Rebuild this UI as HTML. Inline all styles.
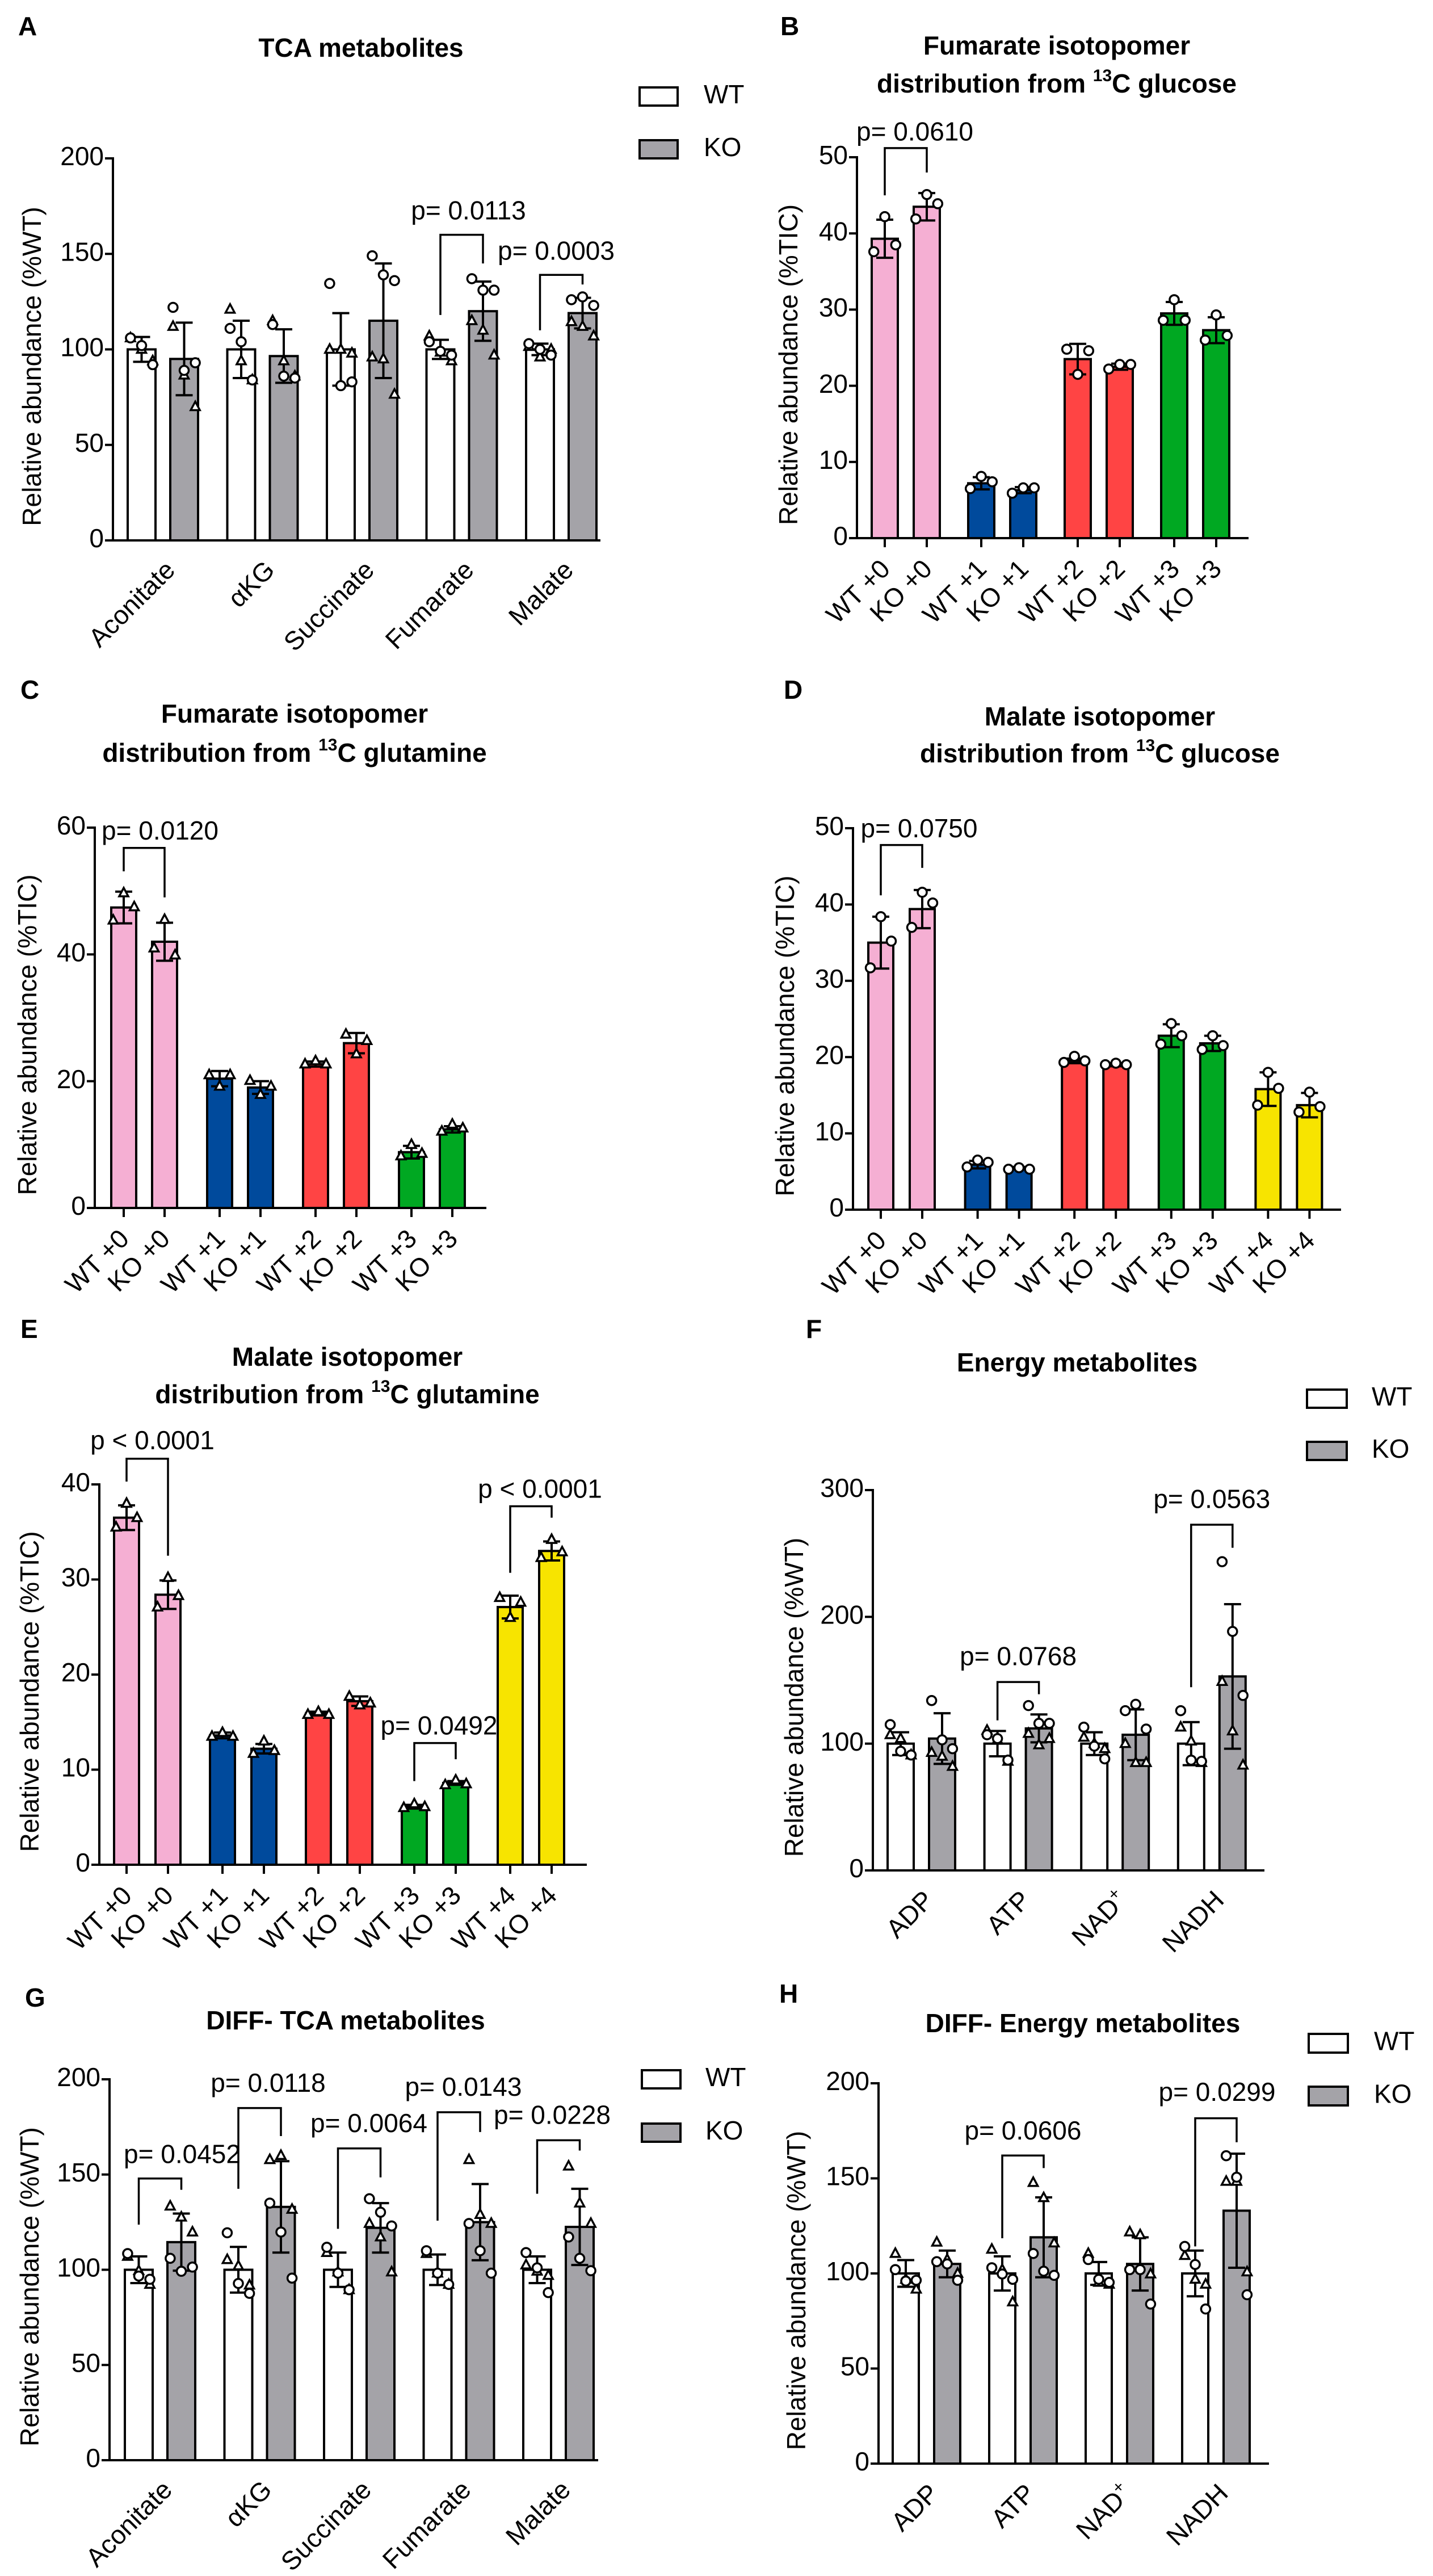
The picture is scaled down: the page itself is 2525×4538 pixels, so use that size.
<!DOCTYPE html>
<html><head><meta charset="utf-8"><title>Metabolite figure</title>
<style>
html,body{margin:0;padding:0;background:#fff;}
svg{display:block;font-family:"Liberation Sans",Arial,sans-serif;}
</style></head>
<body>
<svg id="fig" xmlns="http://www.w3.org/2000/svg" width="2525" height="4538" viewBox="0 0 2525 4538">
<rect x="0" y="0" width="2525" height="4538" fill="#ffffff"/>
</svg>
<script>
// ===== Panel A data =====
const aCategories = ['Aconitate','\u03b1KG','Succinate','Fumarate','Malate'];
const aWtMean = [100,100,100,100,100];
const aKoMean = [95,96.5,115,120,119];
const aWtSd = [6.5,15,19,5,3];
const aKoSd = [19,14,30,15.5,8];
const aWtPts = [
 [[106,'t'],[100,'t'],[94,'t'],[106,'c'],[102,'c'],[92,'c']],
 [[121,'t'],[94,'t'],[84,'t'],[111,'c'],[104,'c'],[84,'c']],
 [[100,'t'],[100,'t'],[98,'t'],[134.5,'c'],[81,'c'],[83,'c']],
 [[107,'t'],[98.5,'t'],[94,'t'],[104,'c'],[99,'c'],[97,'c']],
 [[101.5,'t'],[96,'t'],[100,'t'],[103,'c'],[100,'c'],[97,'c']]
];
const aKoPts = [
 [[112,'t'],[86.5,'t'],[70,'t'],[122,'c'],[89,'c'],[93,'c']],
 [[115,'t'],[94,'t'],[86,'t'],[113,'c'],[86,'c'],[85,'c']],
 [[96,'t'],[95,'t'],[76.5,'t'],[149,'c'],[139,'c'],[136,'c']],
 [[115,'t'],[110,'t'],[97,'t'],[137,'c'],[131,'c'],[131,'c']],
 [[114.5,'t'],[112,'t'],[107,'t'],[126,'c'],[127.5,'c'],[123,'c']]
];
const aTicks = [0,50,100,150,200];
const aBrackets = [
 {a:6,b:7,top:160,l:118,r:145,t:168,label:'p= 0.0113'},
 {a:8,b:9,top:139,l:110,r:134,t:147,label:'p= 0.0003'}
];
// ===== Panel B data =====
const bLabels = ['WT +0','KO +0','WT +1','KO +1','WT +2','KO +2','WT +3','KO +3'];
const bMeans = [39.3,43.5,7.2,6.3,23.5,22.5,29.5,27.3];
const bSd = [2.5,1.8,0.8,0.4,2,0.4,1.5,1.7];
const bPts = [[37.6,42.2,38.5],[41.9,45.1,43.9],[6.5,8.1,7.4],[5.9,6.6,6.6],[24.8,21.5,24.6],[22.2,22.8,22.8],[28.6,31.3,28.6],[26,29.3,26.6]];
const bTicks = [0,10,20,30,40,50];
const bBrackets = [{a:0,b:1,top:51.2,l:45,r:48,t:52.2,label:'p= 0.0610'}];
// ===== Panel C data =====
const cLabels = ['WT +0','KO +0','WT +1','KO +1','WT +2','KO +2','WT +3','KO +3'];
const cMeans = [47.4,42,20.4,19,22.7,26,8.8,12.4];
const cSd = [2.5,3,1.2,1,0.4,1.6,1,0.5];
const cPts = [[45.4,49.7,47.5],[41,45.5,39.9],[21,19.2,21],[20.1,17.9,19.2],[22.7,23.2,22.7],[27.4,24.3,26.4],[8.2,10,8.6],[12.1,13.2,12.6]];
const cTicks = [0,20,40,60];
const cBrackets = [{a:0,b:1,top:56.8,l:53.1,r:49,t:58.1,label:'p= 0.0120'}];
// ===== Panel D data =====
const dLabels = ['WT +0','KO +0','WT +1','KO +1','WT +2','KO +2','WT +3','KO +3','WT +4','KO +4'];
const dMeans = [35,39.4,5.9,5.5,19.5,19,22.8,21.8,15.8,13.7];
const dSd = [3.4,2.5,0.5,0.1,0.3,0.2,1.5,1,2.2,1.6];
const dPts = [[31.7,38.4,35.2],[37,41.6,40.2],[5.6,6.5,6.2],[5.3,5.5,5.3],[19.3,20.1,19.5],[19,19.2,19],[21.7,24.4,22.8],[21,22.8,21.5],[13.7,18,15.9],[12.8,15.4,13.5]];
const dTicks = [0,10,20,30,40,50];
const dBrackets = [{a:0,b:1,top:47.8,l:41.2,r:44.8,t:48.8,label:'p= 0.0750'}];
// ===== Panel E data =====
const eLabels = ['WT +0','KO +0','WT +1','KO +1','WT +2','KO +2','WT +3','KO +3','WT +4','KO +4'];
const eMeans = [36.5,28.4,13.6,12.2,15.9,17.2,6.1,8.6,27.1,33];
const eSd = [1.3,1.5,0.3,0.5,0.2,0.5,0.2,0.2,1.2,1.0];
const ePts = [[35.5,38,36.5],[27.1,30.2,28.3],[13.5,13.9,13.5],[11.7,13,12],[15.8,16.1,15.8],[17.7,16.8,17],[6,6.4,6.1],[8.4,8.9,8.5],[28.1,26,27.6],[32.3,34.2,32.9]];
const eTicks = [0,10,20,30,40];
const eBrackets = [
 {a:0,b:1,top:42.7,l:40.3,r:32.5,t:43.7,label:'p < 0.0001'},
 {a:6,b:7,top:12.8,l:8.8,r:11.1,t:13.7,label:'p= 0.0492'},
 {a:8,b:9,top:37.7,l:30.7,r:36.5,t:38.6,label:'p < 0.0001'}
];
// ===== Panel F data =====
const fCategories = ['ADP','ATP','NAD+','NADH'];
const fWtMean = [100,100,100,100];
const fKoMean = [104,112,107,153];
const fWtSd = [9,10,9,17];
const fKoSd = [20,11,20,57];
const fWtPts = [
 [[107,'t'],[104,'t'],[91,'t'],[115,'c'],[94,'c'],[91,'c']],
 [[110.5,'t'],[103,'t'],[86,'t'],[107,'c'],[104,'c'],[87,'c']],
 [[105,'t'],[100,'t'],[96,'t'],[113,'c'],[98,'c'],[88,'c']],
 [[113,'t'],[102,'t'],[85,'t'],[126,'c'],[87,'c'],[86,'c']]
];
const fKoPts = [
 [[93,'t'],[90,'t'],[82,'t'],[134,'c'],[103,'c'],[96,'c']],
 [[108,'t'],[99,'t'],[104,'t'],[130,'c'],[116,'c'],[116,'c']],
 [[100,'t'],[85,'t'],[85,'t'],[126,'c'],[131,'c'],[111.5,'c']],
 [[149,'t'],[110,'t'],[83,'t'],[243.5,'c'],[188.5,'c'],[138,'c']]
];
const fTicks = [0,100,200,300];
const fBrackets = [
 {a:2,b:3,top:148.6,l:118.4,r:139,t:161.8,label:'p= 0.0768'},
 {a:6,b:7,top:272.7,l:144.5,r:254.5,t:285.9,label:'p= 0.0563'}
];
// ===== Panel G data =====
const gCategories = ['Aconitate','\u03b1KG','Succinate','Fumarate','Malate'];
const gWtMean = [100,100,100,100,100];
const gKoMean = [114.5,133,122,125,122.5];
const gWtSd = [7,12,9,8,7];
const gKoSd = [15,24,13,20,20];
const gWtPts = [
 [[107,'t'],[99.5,'t'],[92.3,'t'],[108.5,'c'],[96.7,'c'],[95,'c']],
 [[105.3,'t'],[102,'t'],[91.9,'t'],[119.4,'c'],[92.8,'c'],[87.6,'c']],
 [[109,'t'],[98.8,'t'],[89.5,'t'],[111.8,'c'],[98.2,'c'],[89.5,'c']],
 [[108.5,'t'],[98.2,'t'],[92.3,'t'],[110,'c'],[98.2,'c'],[92.3,'c']],
 [[102.5,'t'],[99.2,'t'],[97,'t'],[109,'c'],[101,'c'],[88,'c']]
];
const gKoPts = [
 [[133.4,'t'],[127.6,'t'],[119.8,'t'],[106,'c'],[99.2,'c'],[101.4,'c']],
 [[157.8,'t'],[160,'t'],[131.7,'t'],[135,'c'],[119.8,'c'],[95.6,'c']],
 [[124.3,'t'],[117.2,'t'],[98.8,'t'],[137.3,'c'],[130.2,'c'],[123,'c']],
 [[157.8,'t'],[129,'t'],[124.3,'t'],[124.3,'c'],[110,'c'],[98.2,'c']],
 [[154.4,'t'],[135,'t'],[124.3,'t'],[117.2,'c'],[106,'c'],[99.5,'c']]
];
const gTicks = [0,50,100,150,200];
const gBrackets = [
 {a:0,b:1,top:147.9,l:123.7,r:142,t:156,label:'p= 0.0452'},
 {a:2,b:3,top:184.9,l:142.5,r:170.2,t:193.5,label:'p= 0.0118'},
 {a:4,b:5,top:163.7,l:121.5,r:148.5,t:172.3,label:'p= 0.0064'},
 {a:6,b:7,top:182.7,l:125.8,r:172.3,t:191.4,label:'p= 0.0143'},
 {a:8,b:9,top:168,l:139.9,r:162.6,t:176.6,label:'p= 0.0228'}
];
// ===== Panel H data =====
const hCategories = ['ADP','ATP','NAD+','NADH'];
const hWtMean = [100,100,100,100];
const hKoMean = [105,119,105,133];
const hWtSd = [7,9,6,12];
const hKoSd = [7,21,14,30];
const hWtPts = [
 [[110.5,'t'],[96.9,'t'],[91.7,'t'],[102,'c'],[96,'c'],[96.4,'c']],
 [[112.7,'t'],[102,'t'],[85,'t'],[103,'c'],[99.7,'c'],[96.9,'c']],
 [[110.5,'t'],[95.3,'t'],[94.3,'t'],[107.3,'c'],[96.9,'c'],[95.3,'c']],
 [[109.4,'t'],[96.9,'t'],[94.3,'t'],[114.2,'c'],[104.7,'c'],[81.3,'c']]
];
const hKoPts = [
 [[116.4,'t'],[107.3,'t'],[100,'t'],[106.2,'c'],[105,'c'],[96.4,'c']],
 [[147.8,'t'],[139.8,'t'],[116,'t'],[110.5,'c'],[101.2,'c'],[99,'c']],
 [[121.8,'t'],[120.3,'t'],[99.7,'t'],[102,'c'],[102,'c'],[83.9,'c']],
 [[148.4,'t'],[148.4,'t'],[100.8,'t'],[161.9,'c'],[150.6,'c'],[88.8,'c']]
];
const hTicks = [0,50,100,150,200];
const hBrackets = [
 {a:2,b:3,top:162,l:118.5,r:155.4,t:170.5,label:'p= 0.0606'},
 {a:6,b:7,top:181.6,l:114.2,r:169,t:190.7,label:'p= 0.0299'}
];

// ===== rendering =====
const NS = 'http://www.w3.org/2000/svg';
const svg = document.getElementById('fig');
const ISO_COLORS = ['#f5afd3','#f5afd3','#004a9c','#004a9c','#ff4444','#ff4444','#00a822','#00a822','#f7e400','#f7e400'];
const WT_FILL = '#ffffff', KO_FILL = '#a4a3a8';
const FS = 46;

function mk(tag, attrs, parent) {
  const el = document.createElementNS(NS, tag);
  for (const k in attrs) el.setAttribute(k, attrs[k]);
  (parent || svg).appendChild(el);
  return el;
}
function group(name) {
  const g = mk('g', {});
  
  
  return g;
}

function drawPanel(P) {
  const g = group('panel-' + P.id);
  const sc = (P.yZero - P.yTop) / P.yMax;
  const Y = v => P.yZero - v * sc;
  const barLeft = k => P.barLeft + Math.floor(k / 2) * P.pitch + (k % 2) * P.off;
  const barCx = k => barLeft(k) + P.barW / 2;

  // letter
  const L = mk('text', {x: P.letterX, y: P.letterY, 'font-size': 46, 'font-weight': 'bold', 'dominant-baseline': 'middle'}, g);
  
  
  L.textContent = P.id.toUpperCase();

  // title
  P.titleLines.forEach((line, i) => {
    const t = mk('text', {x: P.titleX, y: P.titleY[i], 'font-size': FS, 'font-weight': 'bold', 'text-anchor': 'middle', 'dominant-baseline': 'middle'}, g);
    
    
    if (line.indexOf('13C') >= 0) {
      const parts = line.split('13C');
      const s1 = mk('tspan', {}, t); s1.textContent = parts[0];
      const s2 = mk('tspan', {'font-size': 30, dy: -16}, t); s2.textContent = '13';
      const s3 = mk('tspan', {dy: 16}, t); s3.textContent = 'C' + parts[1];
    } else t.textContent = line;
  });

  // y axis
  const ya = mk('line', {x1: P.axisX, y1: Y(P.yMax) - 2, x2: P.axisX, y2: P.yZero + 2, stroke: '#000', 'stroke-width': 4}, g);
  
  
  P.ticks.forEach(v => {
    const tk = mk('line', {x1: P.axisX - 14, y1: Y(v), x2: P.axisX, y2: Y(v), stroke: '#000', 'stroke-width': 4}, g);
    
    
    const tl = mk('text', {x: P.axisX - 16, y: Y(v), 'font-size': FS, 'text-anchor': 'end', 'dominant-baseline': 'middle'}, g);
    
    
    tl.textContent = String(v);
  });
  const yl = mk('text', {x: 0, y: 0, 'font-size': FS, 'text-anchor': 'middle', 'dominant-baseline': 'middle',
    transform: 'translate(' + P.yLabelX + ',' + ((P.yZero + Y(P.yMax)) / 2 + 30) + ') rotate(-90)'}, g);
  
  
  yl.textContent = P.yTitle;

  // bars
  const n = P.means.length;
  for (let k = 0; k < n; k++) {
    const x = barLeft(k), top = Y(P.means[k]);
    const r = mk('rect', {x: x, y: top, width: P.barW, height: P.yZero - top, fill: P.fills[k], stroke: '#000', 'stroke-width': 4}, g);
    
    
  }
  // x axis (after bars)
  const xa = mk('line', {x1: P.axisX - 14, y1: P.yZero, x2: P.xEnd, y2: P.yZero, stroke: '#000', 'stroke-width': 4}, g);
  
  

  // error bars & points
  for (let k = 0; k < n; k++) {
    const cx = barCx(k), m = P.means[k], s = P.sds[k];
    const eb = mk('path', {d: 'M' + cx + ' ' + Y(m - s) + 'V' + Y(m + s) + 'M' + (cx - 15) + ' ' + Y(m + s) + 'H' + (cx + 15) + 'M' + (cx - 15) + ' ' + Y(m - s) + 'H' + (cx + 15), stroke: '#000', 'stroke-width': 4, fill: 'none'}, g);
    
    
    const pts = P.points[k];
    const jit = pts.length === 3 ? [-0.42, 0, 0.42] : [-0.4, 0, 0.4, -0.4, 0, 0.4];
    pts.forEach((p, i) => {
      const v = Array.isArray(p) ? p[0] : p;
      const mt = Array.isArray(p) ? p[1] : P.marker;
      const px = cx + jit[i] * P.barW, py = Y(v);
      let el;
      if (mt === 'c') {
        el = mk('circle', {cx: px, cy: py, r: 8, fill: '#fff', stroke: '#000', 'stroke-width': 3.5}, g);
      } else {
        el = mk('path', {d: 'M' + px + ' ' + (py - 9) + 'L' + (px + 8) + ' ' + (py + 6) + 'L' + (px - 8) + ' ' + (py + 6) + 'Z', fill: '#fff', stroke: '#000', 'stroke-width': 3.5}, g);
      }
      
      
    });
  }

  // x labels
  if (P.mode === 'bar') {
    for (let k = 0; k < n; k++) {
      const cx = barCx(k);
      const tk = mk('line', {x1: cx, y1: P.yZero, x2: cx, y2: P.yZero + 16, stroke: '#000', 'stroke-width': 4}, g);
      
      
      const t = mk('text', {x: 0, y: 0, 'font-size': FS, 'text-anchor': 'end', transform: 'translate(' + (cx + 12) + ',' + (P.yZero + 57) + ') rotate(-45)'}, g);
      
      
      t.textContent = P.labels[k];
    }
  } else {
    P.labels.forEach((lab, gi) => {
      const cx = (barLeft(2 * gi) + barLeft(2 * gi + 1) + P.barW) / 2;
      const t = mk('text', {x: 0, y: 0, 'font-size': FS, 'text-anchor': 'end', transform: 'translate(' + (cx + 24) + ',' + (P.yZero + 55) + ') rotate(-45)'}, g);
      
      
      if (lab === 'NAD+') {
        const s1 = mk('tspan', {}, t); s1.textContent = 'NAD';
        const s2 = mk('tspan', {'font-size': 30, dy: -18}, t); s2.textContent = '+';
      } else t.textContent = lab;
    });
  }

  // brackets
  P.brackets.forEach((b, i) => {
    const x1 = barCx(b.a), x2 = barCx(b.b);
    const br = mk('path', {d: 'M' + x1 + ' ' + Y(b.l) + 'V' + Y(b.top) + 'H' + x2 + 'V' + Y(b.r), stroke: '#000', 'stroke-width': 3.5, fill: 'none'}, g);
    
    
    const t = mk('text', {x: (x1 + x2) / 2 + (P.bracketDx[i] || 0), y: Y(b.t), 'font-size': FS, 'text-anchor': 'middle'}, g);
    
    
    t.textContent = b.label;
  });

  // legend
  if (P.legend) {
    const Lg = P.legend;
    [['WT', WT_FILL, Lg.y1], ['KO', KO_FILL, Lg.y2]].forEach(e => {
      const r = mk('rect', {x: Lg.x, y: e[2], width: Lg.w, height: Lg.h, fill: e[1], stroke: '#000', 'stroke-width': 4}, g);
      
      
      const t = mk('text', {x: Lg.tx, y: e[2] + Lg.h / 2, 'font-size': FS, 'dominant-baseline': 'middle'}, g);
      
      
      t.textContent = e[0];
    });
  }
}

function interleave(a, b) { const o = []; a.forEach((v, i) => { o.push(v); o.push(b[i]); }); return o; }
function pairFills(n) { const o = []; for (let i = 0; i < n; i++) { o.push(WT_FILL); o.push(KO_FILL); } return o; }
function pairNames(c) { const o = []; c.forEach(x => { o.push('wt-' + x); o.push('ko-' + x); }); return o; }

drawPanel({id:'a', letterX:32, letterY:50, titleX:636, titleY:[88], titleLines:['TCA metabolites'],
  axisX:199, xEnd:1058, yTop:279, yZero:952, yMax:200, ticks:aTicks, yLabelX:60, yTitle:'Relative abundance (%WT)',
  barLeft:225, barW:49, off:75, pitch:175.5, means:interleave(aWtMean,aKoMean), sds:interleave(aWtSd,aKoSd),
  points:interleave(aWtPts,aKoPts), fills:pairFills(5), barNames:pairNames(aCategories), mode:'group', labels:aCategories,
  brackets:aBrackets, bracketDx:[12,-9], legend:{x:1127, w:67, h:32, y1:154, y2:247, tx:1240}});

drawPanel({id:'b', letterX:1375, letterY:50, titleX:1862, titleY:[84,151], titleLines:['Fumarate isotopomer','distribution from 13C glucose'],
  axisX:1510, xEnd:2200, yTop:277, yZero:948, yMax:50, ticks:bTicks, yLabelX:1393, yTitle:'Relative abundance (%TIC)',
  barLeft:1536, barW:46, off:74, pitch:170, means:bMeans, sds:bSd, points:bPts, marker:'c', fills:ISO_COLORS,
  barNames:bLabels.map(s=>s.replace(' +','-p').toLowerCase()), mode:'bar', labels:bLabels, brackets:bBrackets, bracketDx:[16]});

drawPanel({id:'c', letterX:36, letterY:1219, titleX:519, titleY:[1261,1330], titleLines:['Fumarate isotopomer','distribution from 13C glutamine'],
  axisX:167, xEnd:857, yTop:1458, yZero:2128, yMax:60, ticks:cTicks, yLabelX:52, yTitle:'Relative abundance (%TIC)',
  barLeft:196, barW:44, off:72, pitch:169, means:cMeans, sds:cSd, points:cPts, marker:'t', fills:ISO_COLORS,
  barNames:cLabels.map(s=>s.replace(' +','-p').toLowerCase()), mode:'bar', labels:cLabels, brackets:cBrackets, bracketDx:[28]});

drawPanel({id:'d', letterX:1381, letterY:1219, titleX:1938, titleY:[1266,1331], titleLines:['Malate isotopomer','distribution from 13C glucose'],
  axisX:1503, xEnd:2363, yTop:1459, yZero:2131, yMax:50, ticks:dTicks, yLabelX:1387, yTitle:'Relative abundance (%TIC)',
  barLeft:1530, barW:44, off:73, pitch:170.6, means:dMeans, sds:dSd, points:dPts, marker:'c', fills:ISO_COLORS,
  barNames:dLabels.map(s=>s.replace(' +','-p').toLowerCase()), mode:'bar', labels:dLabels, brackets:dBrackets, bracketDx:[31]});

drawPanel({id:'e', letterX:36, letterY:2345, titleX:612, titleY:[2394,2460], titleLines:['Malate isotopomer','distribution from 13C glutamine'],
  axisX:175, xEnd:1034, yTop:2615, yZero:3285, yMax:40, ticks:eTicks, yLabelX:56, yTitle:'Relative abundance (%TIC)',
  barLeft:201, barW:44, off:73, pitch:169, means:eMeans, sds:eSd, points:ePts, marker:'t', fills:ISO_COLORS,
  barNames:eLabels.map(s=>s.replace(' +','-p').toLowerCase()), mode:'bar', labels:eLabels, brackets:eBrackets, bracketDx:[9,7,16]});

drawPanel({id:'f', letterX:1420, letterY:2345, titleX:1898, titleY:[2404], titleLines:['Energy metabolites'],
  axisX:1538, xEnd:2228, yTop:2625, yZero:3295, yMax:300, ticks:fTicks, yLabelX:1403, yTitle:'Relative abundance (%WT)',
  barLeft:1564, barW:46, off:73, pitch:170.6, means:interleave(fWtMean,fKoMean), sds:interleave(fWtSd,fKoSd),
  points:interleave(fWtPts,fKoPts), fills:pairFills(4), barNames:pairNames(fCategories), mode:'group', labels:fCategories,
  brackets:fBrackets, bracketDx:[0,0], legend:{x:2303, w:70, h:32, y1:2448, y2:2540, tx:2417}});

drawPanel({id:'g', letterX:44, letterY:3523, titleX:609, titleY:[3563], titleLines:['DIFF- TCA metabolites'],
  axisX:193, xEnd:1054, yTop:3663, yZero:4334, yMax:200, ticks:gTicks, yLabelX:56, yTitle:'Relative abundance (%WT)',
  barLeft:220, barW:49, off:75, pitch:175.5, means:interleave(gWtMean,gKoMean), sds:interleave(gWtSd,gKoSd),
  points:interleave(gWtPts,gKoPts), fills:pairFills(5), barNames:pairNames(gCategories), mode:'group', labels:gCategories,
  brackets:gBrackets, bracketDx:[39,15,17,8,-11], legend:{x:1131, w:68, h:32, y1:3647, y2:3741, tx:1243}});

drawPanel({id:'h', letterX:1373, letterY:3516, titleX:1908, titleY:[3568], titleLines:['DIFF- Energy metabolites'],
  axisX:1548, xEnd:2236, yTop:3670, yZero:4340, yMax:200, ticks:hTicks, yLabelX:1407, yTitle:'Relative abundance (%WT)',
  barLeft:1573, barW:46, off:73, pitch:170, means:interleave(hWtMean,hKoMean), sds:interleave(hWtSd,hKoSd),
  points:interleave(hWtPts,hKoPts), fills:pairFills(4), barNames:pairNames(hCategories), mode:'group', labels:hCategories,
  brackets:hBrackets, bracketDx:[0,2], legend:{x:2306, w:69, h:33, y1:3583, y2:3676, tx:2421}});
</script>
</body></html>
